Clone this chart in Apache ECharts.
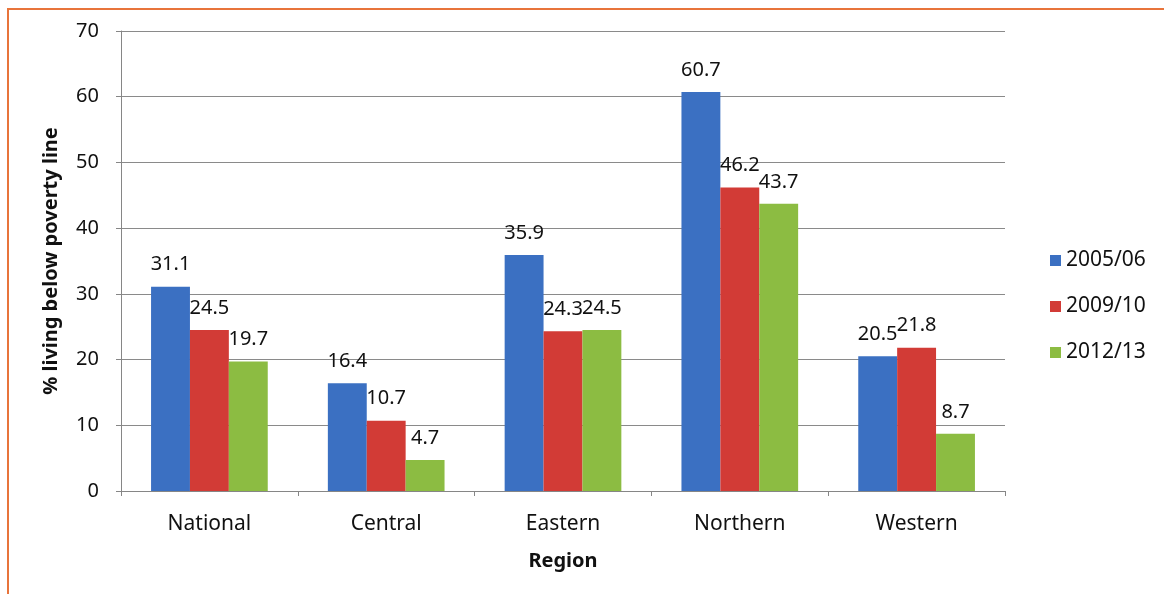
<!DOCTYPE html>
<html>
<head>
<meta charset="utf-8">
<script src="https://cdn.jsdelivr.net/npm/echarts@6/dist/echarts.min.js"></script>
<style>
  html, body { margin: 0; padding: 0; background: #fff; }
  #frame { position: absolute; left: 7px; top: 8px; width: 1200px; height: 600px;
    border-top: 2px solid #e8743b; border-left: 2px solid #e8743b; }
  #chart { position: absolute; left: 0; top: 0; width: 1164px; height: 594px; }
</style>
</head>
<body>
<div id="frame"></div>
<div id="chart"></div>
<script>
const regions = ['National', 'Central', 'Eastern', 'Northern', 'Western']
const y2005 = [31.1, 16.4, 35.9, 60.7, 20.5]
const y2009 = [24.5, 10.7, 24.3, 46.2, 21.8]
const y2012 = [19.7, 4.7, 24.5, 43.7, 8.7]
const seriesNames = ['2005/06', '2009/10', '2012/13']
const colors = ['#3b70c2', '#d23b36', '#8cbc42']

const font = "'Noto Sans', sans-serif"
const chart = echarts.init(document.getElementById('chart'))

const mkBar = (name, data, color) => ({
  name, type: 'bar', data,
  barGap: 0, barCategoryGap: '34%',
  itemStyle: { color },
  label: { show: true, position: 'top', distance: 12, color: '#111', fontSize: 20, fontFamily: font }
})

chart.setOption({
  animation: false,
  textStyle: { fontFamily: font },
  grid: { left: 121, right: 159, top: 31, bottom: 103 },
  legend: {
    orient: 'vertical', left: 1045, top: 245, itemGap: 25,
    itemWidth: 11, itemHeight: 11, icon: 'rect',
    textStyle: { fontSize: 21, color: '#111', fontFamily: font },
    data: seriesNames
  },
  xAxis: {
    type: 'category', data: regions,
    name: 'Region', nameLocation: 'middle', nameGap: 60,
    nameTextStyle: { fontSize: 20, fontWeight: 'bold', color: '#111', fontFamily: font },
    axisLine: { lineStyle: { color: '#868686' } },
    axisTick: { show: true, length: 5, lineStyle: { color: '#868686' } },
    axisLabel: { fontSize: 21, color: '#111', margin: 23, fontFamily: font }
  },
  yAxis: {
    type: 'value', min: 0, max: 70, interval: 10,
    name: '% living below poverty line', nameLocation: 'middle', nameGap: 60,
    nameTextStyle: { fontSize: 20, fontWeight: 'bold', color: '#111', fontFamily: font },
    axisLine: { show: true, lineStyle: { color: '#868686' } },
    axisTick: { show: true, length: 5, lineStyle: { color: '#868686' } },
    axisLabel: { fontSize: 20, color: '#111', margin: 22, fontFamily: font },
    splitLine: { lineStyle: { color: '#8a8a8a', width: 1 } }
  },
  series: [
    mkBar(seriesNames[0], y2005, colors[0]),
    mkBar(seriesNames[1], y2009, colors[1]),
    mkBar(seriesNames[2], y2012, colors[2])
  ]
})
</script>
</body>
</html>
